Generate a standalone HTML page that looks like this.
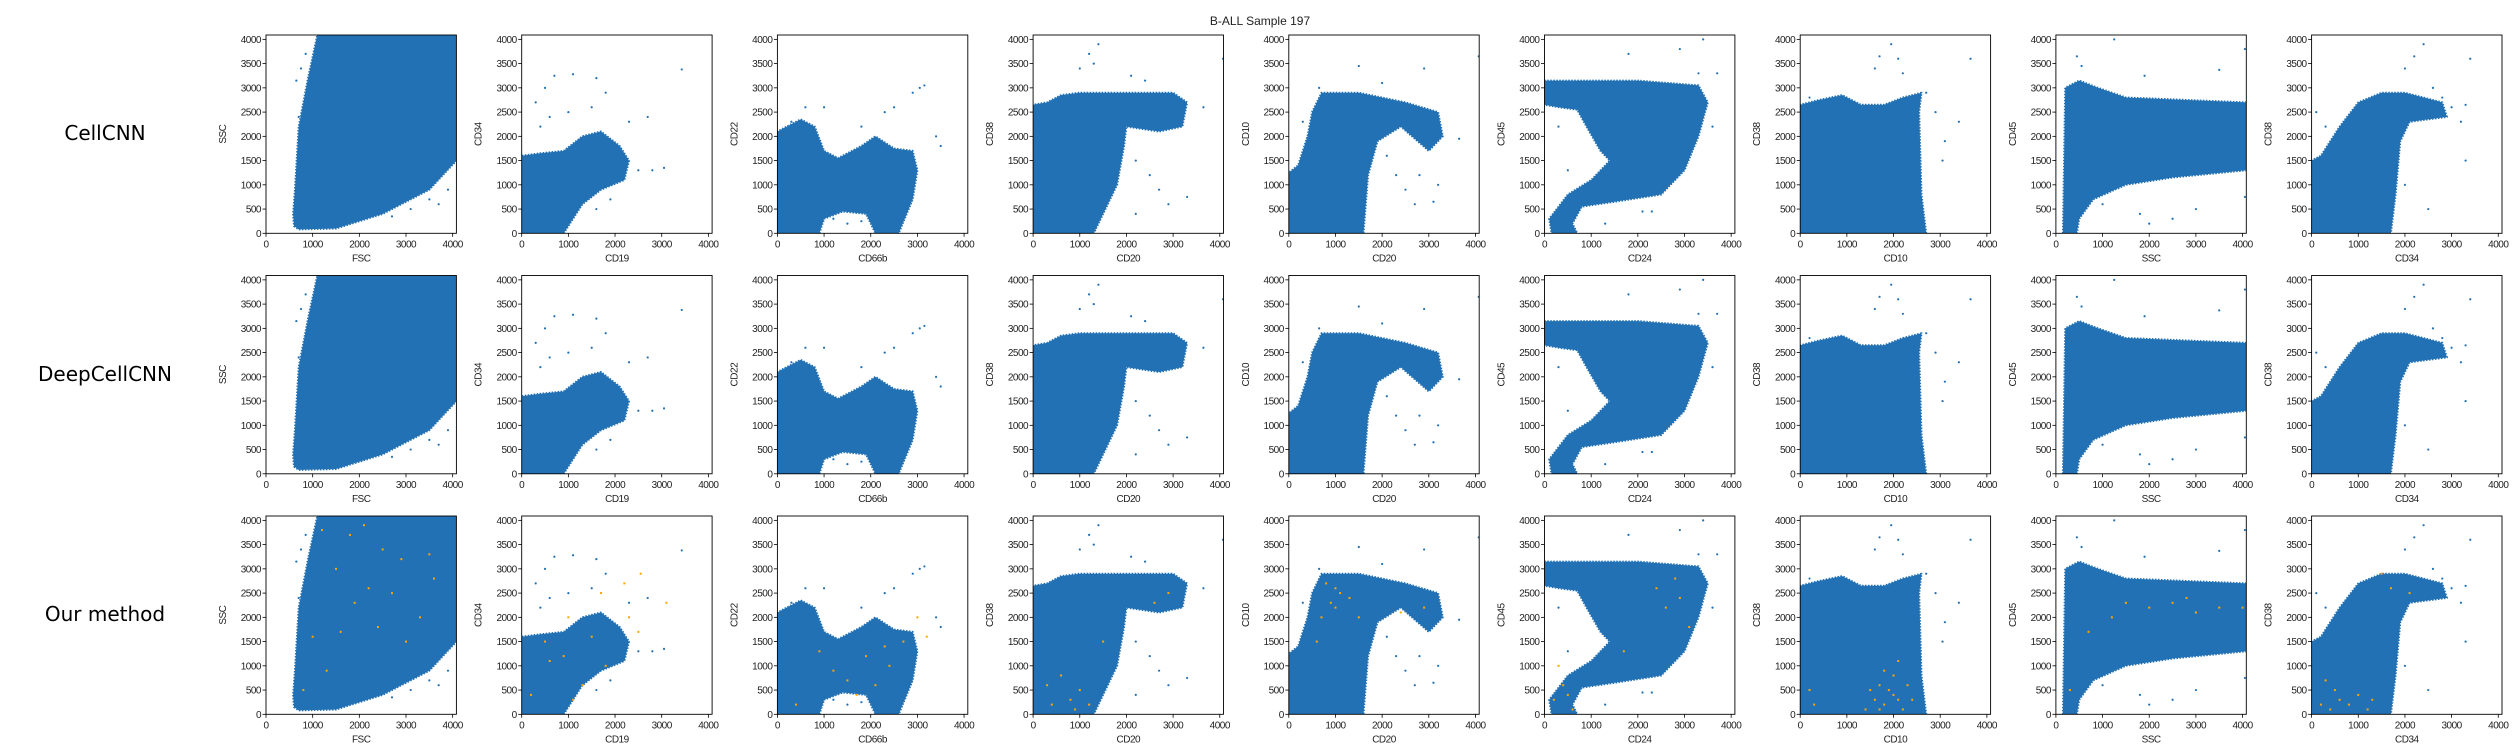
<!DOCTYPE html>
<html><head><meta charset="utf-8">
<style>
html,body{margin:0;padding:0;background:#fff;}
svg{display:block;}
text{font-family:"Liberation Sans","DejaVu Sans",sans-serif;fill:#222;}
.tick{font-size:10px;letter-spacing:-0.5px;}
.rowlab{font-family:"DejaVu Sans","Liberation Sans",sans-serif;font-size:20px;fill:#000;}
</style></head>
<body>
<svg id="fig" width="2520" height="756" viewBox="0 0 2520 756" xmlns="http://www.w3.org/2000/svg">
<text x="1260" y="25" text-anchor="middle" style="font-size:12px">B-ALL Sample 197</text>
<text class="rowlab" x="105" y="140" text-anchor="middle">CellCNN</text>
<text class="rowlab" x="105" y="381" text-anchor="middle">DeepCellCNN</text>
<text class="rowlab" x="105" y="621" text-anchor="middle">Our method</text>
</svg>
<script>
// ---- data ----
const rowNames = ["cellcnn","deepcellcnn","our-method"];
const xLabels = ["FSC","CD19","CD66b","CD20","CD20","CD24","CD10","SSC","CD34"];
const yLabels = ["SSC","CD34","CD22","CD38","CD10","CD45","CD38","CD45","CD38"];
const xTicks = [0,1000,2000,3000,4000];
const yTicks = [0,500,1000,1500,2000,2500,3000,3500,4000];
// dense cloud outlines (data units)
const cloud0 = [[600,150],[700,80],[1500,100],[2500,400],[3500,900],[4080,1500],[4080,4090],[1100,4090],[900,3200],[700,2200],[620,900],[580,400]];
const cloud1 = [[0,0],[900,0],[1300,600],[1700,900],[2200,1100],[2300,1500],[2100,1800],[1700,2100],[1300,2000],[900,1700],[400,1650],[0,1600]];
const cloud2 = [[0,0],[900,0],[1000,300],[1400,450],[1900,400],[2100,0],[2600,0],[2900,700],[3000,1300],[2900,1700],[2500,1750],[2100,2000],[1800,1800],[1300,1550],[1000,1700],[800,2200],[500,2350],[200,2200],[0,2100]];
const cloud3 = [[0,0],[1300,0],[1800,1000],[1950,1800],[2000,2200],[2700,2100],[3200,2200],[3300,2700],[3000,2900],[1000,2900],[600,2850],[300,2700],[0,2650]];
const cloud4 = [[0,0],[1600,0],[1700,1200],[1900,1900],[2400,2200],[3000,1700],[3300,2000],[3200,2500],[2500,2700],[1500,2900],[700,2900],[500,2500],[400,2000],[200,1400],[0,1250]];
const cloud5 = [[0,2650],[0,3150],[2000,3150],[3300,3050],[3500,2700],[3300,2000],[3000,1300],[2500,800],[1500,650],[800,550],[600,200],[700,0],[150,0],[100,300],[500,800],[1000,1100],[1400,1500],[1200,1700],[900,2200],[700,2550],[300,2600]];
const cloud6 = [[0,0],[2700,0],[2600,800],[2550,2500],[2600,2900],[2200,2800],[1800,2650],[1300,2650],[900,2850],[400,2750],[0,2650]];
const cloud7 = [[150,0],[200,3000],[500,3150],[900,3000],[1500,2800],[4080,2700],[4080,1300],[2500,1150],[1500,1000],[800,700],[500,300],[450,0]];
const cloud8 = [[0,0],[1700,0],[1800,800],[1900,1900],[2100,2300],[2900,2400],[2800,2700],[2000,2900],[1500,2900],[1000,2700],[600,2200],[200,1600],[0,1500]];
const clouds = [cloud0,cloud1,cloud2,cloud3,cloud4,cloud5,cloud6,cloud7,cloud8];
// sparse outlier points (data units)
const sparse0 = [[700,2400],[650,3150],[750,3400],[850,3700],[3500,700],[3700,600],[3900,900],[3100,500],[2700,350],[3800,1300]];
const sparse1 = [[300,2700],[500,3000],[700,3250],[1100,3280],[1600,3200],[1500,2600],[1800,2900],[600,2400],[2500,1300],[2800,1300],[3050,1350],[3430,3380],[2700,2400],[1900,700],[1600,500],[400,2200],[1000,2500],[2300,2300]];
const sparse2 = [[300,2300],[600,2600],[1000,2600],[1800,2200],[2300,2500],[2500,2600],[2900,2900],[3050,3000],[3150,3050],[3400,2000],[3500,1800],[1200,300],[1500,200],[1800,250],[2200,300]];
const sparse3 = [[1000,3400],[1200,3700],[1400,3900],[1300,3500],[2100,3250],[2400,3150],[2500,2800],[2200,1500],[2500,1200],[2700,900],[2900,600],[2200,400],[3650,2600],[4070,3600],[3300,750],[150,2400],[100,1800]];
const sparse4 = [[650,3000],[1500,3450],[2000,3100],[2900,3400],[2300,1200],[2500,900],[2700,600],[3100,650],[3200,1000],[3650,1950],[4070,3650],[2800,1200],[2100,1600],[300,2300]];
const sparse5 = [[500,1300],[300,2200],[1800,3700],[2900,3800],[3400,4000],[3300,3300],[3700,3300],[3600,2200],[1300,200],[2100,450],[2300,450],[3200,2800]];
const sparse6 = [[1600,3400],[1700,3650],[1950,3900],[2100,3600],[2200,3300],[2700,2900],[2900,2500],[3400,2300],[3650,3600],[3050,1500],[3100,1900],[200,2800]];
const sparse7 = [[1250,4000],[450,3650],[550,3450],[1900,3250],[3500,3370],[4050,3800],[3000,500],[2500,300],[1800,400],[2000,200],[4050,750],[1000,600]];
const sparse8 = [[2000,3400],[2200,3650],[2400,3900],[2600,3000],[2800,2800],[3000,2600],[3300,1500],[3200,2300],[3400,3600],[3300,2650],[2000,1000],[2500,500],[100,2500],[300,2200]];
const sparses = [sparse0,sparse1,sparse2,sparse3,sparse4,sparse5,sparse6,sparse7,sparse8];
// highlighted (orange) cells, "Our method" row
const orange0 = [[1200,3800],[1800,3700],[2500,3400],[2900,3200],[2200,2600],[3300,2000],[1600,1700],[2700,2500],[1000,1600],[3500,3300],[1900,2300],[2400,1800],[800,500],[1300,900],[3600,2800],[2100,3900],[1500,3000],[3000,1500]];
const orange1 = [[200,400],[600,1100],[900,1200],[1100,300],[1300,600],[1500,1600],[1800,1000],[2300,2000],[2550,2900],[1700,2500],[2200,2700],[3100,2300],[500,1500],[1000,2000],[2500,1700]];
const orange2 = [[1200,900],[1500,700],[1900,1200],[2100,600],[2400,1000],[2700,1500],[3000,2000],[1700,400],[2300,1400],[900,1300],[3200,1600],[400,200]];
const orange3 = [[400,200],[800,300],[1000,500],[600,800],[1200,200],[300,600],[2600,2300],[2900,2500],[1500,1500],[900,100]];
const orange4 = [[700,2000],[900,2300],[1000,2600],[1100,2500],[1300,2400],[800,2700],[2400,2100],[2900,2200],[1500,2000],[600,1500],[1000,2200]];
const orange5 = [[200,300],[400,600],[600,100],[300,1000],[500,400],[2600,2200],[2900,2400],[3100,1800],[2400,2600],[2800,2800],[1700,1300]];
const orange6 = [[1400,100],[1600,300],[1700,600],[1800,200],[1900,500],[2000,800],[2100,300],[2200,100],[2300,600],[1500,500],[2400,300],[1800,900],[2000,400],[1700,100],[300,200],[200,500],[2100,1100]];
const orange7 = [[1500,2300],[2000,2200],[2500,2300],[3000,2100],[3500,2200],[700,1700],[300,500],[1200,2000],[2800,2400],[4000,2200]];
const orange8 = [[200,200],[400,100],[600,300],[800,200],[500,500],[1000,400],[1200,100],[1500,2900],[1700,2600],[2100,2500],[300,700],[1300,300]];
const oranges = [orange0,orange1,orange2,orange3,orange4,orange5,orange6,orange7,orange8];

// ---- layout ----
const NS = "http://www.w3.org/2000/svg";
const svg = document.getElementById("fig");
const AX_L0 = 266, AX_DX = 255.7, AX_W = 190.4;
const AX_T0 = 35, AX_DY = 240.5, AX_H = 198.3;
const XMAX = 4080, YMAX = 4090;
const BLUE = "#2271b4", ORANGE = "#ffa500";
function mk(tag, attrs, parent){ const e=document.createElementNS(NS,tag); for(const k in attrs) e.setAttribute(k,attrs[k]); parent.appendChild(e); return e; }

for(let r=0;r<3;r++){
  for(let c=0;c<9;c++){
    const L = AX_L0 + c*AX_DX, T = AX_T0 + r*AX_DY;
    const sx = v => L + v/XMAX*AX_W;
    const sy = v => T + AX_H - v/YMAX*AX_H;
    const g = mk("g",{},svg);
    
    
    const cid = "clip"+r+"_"+c;
    const cp = mk("clipPath",{id:cid},g);
    mk("rect",{x:L,y:T,width:AX_W,height:AX_H},cp);
    const plot = mk("g",{"clip-path":"url(#"+cid+")"},g);
    const pts = clouds[c].map(p=>sx(p[0]).toFixed(1)+","+sy(p[1]).toFixed(1)).join(" ");
    const poly = mk("polygon",{points:pts,fill:BLUE,stroke:BLUE,"stroke-width":2,"stroke-linejoin":"round","stroke-dasharray":"1.5 1.5"},plot);
    
    
    sparses[c].forEach(p=>{
      const d = mk("circle",{cx:sx(p[0]),cy:sy(p[1]),r:1.1,fill:BLUE},plot);
      
      
    });
    if(r===2){
      oranges[c].forEach(p=>{
        const d = mk("rect",{x:sx(p[0])-1,y:sy(p[1])-1,width:2,height:2,fill:ORANGE},plot);
        
        
      });
    }
    const frame = mk("rect",{x:L,y:T,width:AX_W,height:AX_H,fill:"none",stroke:"#000","stroke-width":0.9},g);
    
    
    xTicks.forEach(v=>{
      const x = sx(v);
      mk("line",{x1:x,x2:x,y1:T+AX_H,y2:T+AX_H+3.5,stroke:"#000","stroke-width":0.8},g);
      const t = mk("text",{x:x,y:T+AX_H+14,"text-anchor":"middle",class:"tick"},g);
      t.textContent = v;
      
      
    });
    yTicks.forEach(v=>{
      const y = sy(v);
      mk("line",{x1:L-3.5,x2:L,y1:y,y2:y,stroke:"#000","stroke-width":0.8},g);
      const t = mk("text",{x:L-5,y:y+3.5,"text-anchor":"end",class:"tick"},g);
      t.textContent = v;
      
      
    });
    const xl = mk("text",{x:L+AX_W/2,y:T+AX_H+28,"text-anchor":"middle",class:"tick"},g);
    xl.textContent = xLabels[c];
    
    
    const yx = L-40, yy = T+AX_H/2;
    const yl = mk("text",{x:yx,y:yy,"text-anchor":"middle",class:"tick",transform:"rotate(-90 "+yx+" "+yy+")"},g);
    yl.textContent = yLabels[c];
    
    
  }
}
</script>
</body></html>
